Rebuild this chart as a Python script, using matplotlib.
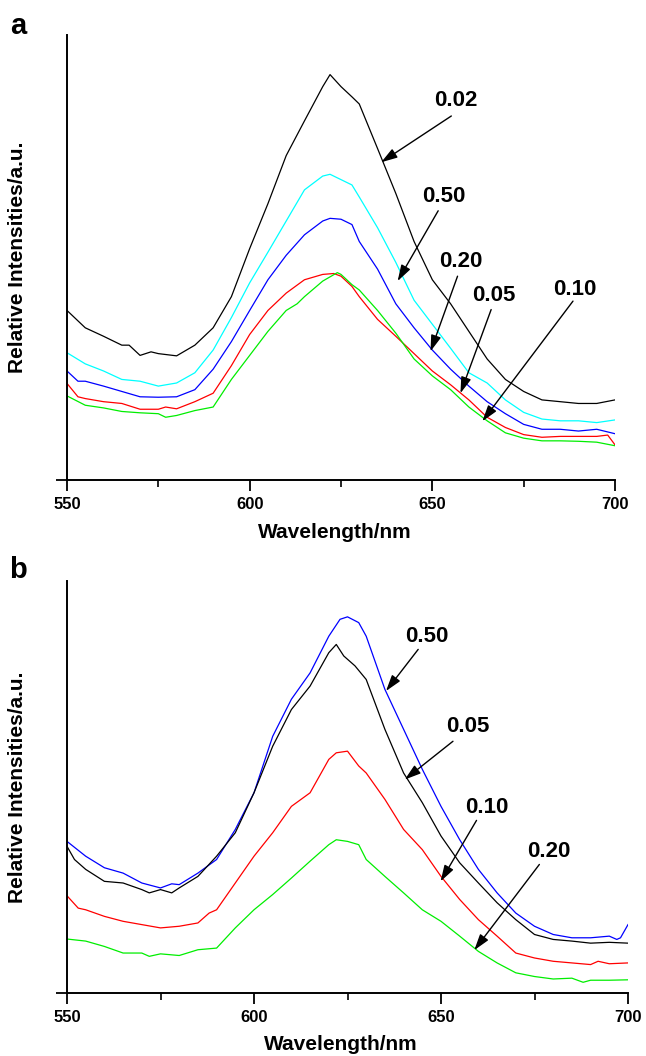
import matplotlib
matplotlib.use("Agg")
import matplotlib.pyplot as plt
from matplotlib.ticker import FixedLocator

plt.rcParams['font.family'] = ['Liberation Sans', 'DejaVu Sans']
plt.rcParams['font.weight'] = 'bold'

# ---------------- Panel a data ----------------
wl_a_black = [550, 555, 560, 565, 567, 570, 573, 575, 580, 585, 590, 595, 600, 605, 610, 615, 620, 622, 625, 628, 630,
              635, 640, 645, 650, 655, 660, 665, 670, 675, 680, 685, 690, 695, 700]
a_002 = [38.1, 34.2, 32.3, 30.3, 30.3, 28.0, 28.8, 28.4, 27.9, 30.3, 34.2, 41.2, 52.0, 62.1, 72.9, 80.7, 88.4, 91.1, 88.4, 86.1, 84.5,
         74.5, 64.4, 53.6, 45.0, 39.6, 33.4, 27.2, 22.6, 19.9, 18.0, 17.6, 17.2, 17.2, 18.0]

wl_a_cyan = [550, 555, 560, 565, 570, 575, 580, 585, 590, 595, 600, 605, 610, 615, 620, 622, 625, 628, 630,
             635, 640, 645, 650, 655, 660, 665, 670, 675, 680, 685, 690, 695, 700]
a_050 = [28.6, 26.1, 24.5, 22.6, 22.2, 21.1, 21.8, 24.1, 29.2, 36.5, 44.3, 51.2, 58.2, 65.2, 68.3, 68.7, 67.5, 66.3, 63.6,
         56.7, 48.9, 40.4, 35.0, 29.6, 24.1, 21.8, 18.0, 15.2, 13.7, 13.3, 13.3, 12.9, 13.5]

wl_a_blue = [550, 553, 555, 560, 565, 570, 575, 580, 585, 590, 595, 600, 605, 610, 615, 620, 622, 625, 628, 630,
             635, 640, 645, 650, 655, 660, 665, 670, 675, 680, 685, 690, 695, 700]
a_020 = [24.5, 22.2, 22.2, 21.1, 19.9, 18.7, 18.6, 18.7, 20.3, 24.9, 31.1, 38.1, 45.0, 50.5, 55.1, 58.2, 58.8, 58.6, 57.4, 53.6,
         47.4, 39.6, 34.2, 29.2, 24.9, 21.1, 17.6, 14.9, 12.5, 11.4, 11.4, 11.0, 11.4, 10.4]

wl_a_red = [550, 553, 555, 560, 565, 570, 575, 577, 580, 585, 590, 595, 600, 605, 610, 615, 620, 623, 625, 628, 630,
            635, 640, 645, 650, 655, 660, 665, 670, 675, 680, 685, 690, 695, 698, 700]
a_005 = [21.7, 18.7, 18.3, 17.6, 17.2, 15.9, 15.9, 16.4, 16.0, 17.6, 19.5, 25.7, 32.7, 38.1, 42.0, 45.0, 46.2, 46.4, 45.8, 43.5, 41.2,
         36.1, 32.3, 28.4, 24.5, 21.4, 18.0, 14.1, 11.8, 10.2, 9.6, 9.8, 9.8, 9.8, 10.1, 7.9]

wl_a_green = [550, 555, 560, 565, 570, 575, 577, 580, 585, 590, 595, 600, 605, 610, 613, 615, 620, 624, 625, 628, 630,
              635, 640, 645, 650, 655, 660, 665, 670, 675, 680, 685, 690, 695, 700]
a_010 = [18.9, 16.8, 16.2, 15.4, 15.1, 14.9, 14.1, 14.5, 15.6, 16.4, 22.6, 28.0, 33.4, 38.1, 39.6, 41.2, 44.7, 46.6, 46.2, 43.9, 42.7,
         38.1, 33.0, 27.2, 23.4, 20.3, 16.4, 13.3, 10.6, 9.4, 8.8, 8.8, 8.7, 8.5, 7.7]

# ---------------- Panel b data ----------------
wl_b_blue = [550, 555, 560, 565, 570, 575, 578, 580, 585, 590, 595, 600, 605, 610, 615, 620, 623, 625, 628, 630,
             635, 640, 645, 650, 655, 660, 665, 670, 675, 680, 685, 690, 695, 697, 698, 700]
b_050 = [36.8, 33.2, 30.4, 29.1, 26.7, 25.5, 26.5, 26.3, 29.1, 32.4, 39.7, 48.6, 62.3, 71.3, 77.7, 86.6, 90.7, 91.3, 89.9, 86.6,
         73.7, 64.0, 54.3, 45.3, 37.2, 30.0, 24.3, 19.4, 16.2, 14.2, 13.4, 13.4, 13.8, 13.0, 13.4, 16.6]

wl_b_black = [550, 552, 555, 560, 565, 570, 572, 575, 578, 580, 585, 590, 595, 600, 605, 610, 615, 620, 622, 624, 627, 630,
              635, 640, 645, 650, 655, 660, 665, 670, 675, 680, 685, 690, 695, 700]
b_005 = [35.6, 32.4, 30.0, 27.1, 26.7, 25.1, 24.3, 25.1, 24.3, 25.5, 28.3, 33.2, 38.9, 48.6, 59.9, 68.8, 74.5, 82.6, 84.6, 81.8, 79.4, 76.1,
         64.0, 53.4, 46.2, 38.1, 31.6, 26.7, 21.9, 17.8, 14.2, 13.0, 12.6, 12.1, 12.3, 12.1]

wl_b_red = [550, 553, 555, 560, 565, 570, 575, 580, 585, 588, 590, 595, 600, 605, 610, 615, 620, 622, 625, 628, 630,
            635, 640, 645, 650, 655, 660, 665, 670, 675, 680, 685, 690, 692, 695, 700]
b_010 = [23.6, 20.6, 20.2, 18.6, 17.4, 16.6, 15.8, 16.2, 17.0, 19.4, 20.2, 26.7, 33.2, 38.9, 45.3, 48.6, 56.7, 58.3, 58.7, 55.1, 53.4,
         47.0, 39.7, 34.8, 28.3, 22.7, 17.8, 13.8, 9.7, 8.5, 7.7, 7.3, 6.9, 7.7, 7.1, 7.3]

wl_b_green = [550, 555, 560, 565, 570, 572, 575, 580, 585, 590, 595, 600, 605, 610, 615, 620, 622, 625, 628, 630,
              635, 640, 645, 650, 655, 660, 665, 670, 675, 680, 685, 688, 690, 695, 700]
b_020 = [13.1, 12.6, 11.3, 9.7, 9.7, 8.9, 9.5, 9.1, 10.5, 10.9, 15.8, 20.2, 23.9, 27.9, 32.0, 36.0, 37.2, 36.8, 36.0, 32.4,
         28.3, 24.3, 20.2, 17.4, 13.8, 10.1, 7.3, 4.9, 4.0, 3.4, 3.6, 2.6, 3.1, 3.1, 3.2]

# annotation labels: (label, text position, arrow tail, arrow head) in data units
ann_a = [("0.02", (656.3, 85.3), (655.2, 81.8), (636.0, 71.4)),
         ("0.50", (653.2, 63.6), (651.6, 60.5), (640.5, 44.7)),
         ("0.20", (657.7, 49.1), (656.9, 45.8), (649.5, 28.9)),
         ("0.05", (666.7, 41.4), (666.1, 38.3), (657.7, 19.5)),
         ("0.10", (689.1, 42.9), (688.5, 40.2), (663.7, 13.2))]
ann_b = [("0.50", (646.1, 86.6), (643.9, 83.4), (635.3, 73.3)),
         ("0.05", (657.1, 64.8), (653.2, 61.1), (640.3, 51.8)),
         ("0.10", (662.2, 45.1), (659.5, 41.9), (649.9, 27.1)),
         ("0.20", (678.9, 34.3), (676.3, 31.2), (658.9, 10.4))]

xticks_major = [550, 600, 650, 700]
xticks_minor = [575, 625, 675]

W, H = 646, 1056
fig = plt.figure(figsize=(W / 100, H / 100), dpi=100)


def make_axes(l, r, t, b):
    return fig.add_axes([l / W, 1 - b / H, (r - l) / W, (b - t) / H])


ax_a = make_axes(67, 615, 35, 480)
ax_b = make_axes(67, 628, 581, 993)

series_a = [(wl_a_black, a_002, 'black'), (wl_a_cyan, a_050, '#00FFFF'), (wl_a_blue, a_020, '#0000FF'),
            (wl_a_red, a_005, '#FF0000'), (wl_a_green, a_010, '#00EE00')]
series_b = [(wl_b_blue, b_050, '#0000FF'), (wl_b_black, b_005, 'black'),
            (wl_b_red, b_010, '#FF0000'), (wl_b_green, b_020, '#00EE00')]


def style(ax, xlab_y, ylab_x):
    ax.set_xlim(550, 700)
    ax.set_ylim(0, 100)
    for s in ('top', 'right'):
        ax.spines[s].set_visible(False)
    for s in ('left', 'bottom'):
        ax.spines[s].set_linewidth(1.4)
    ax.xaxis.set_major_locator(FixedLocator(xticks_major))
    ax.xaxis.set_minor_locator(FixedLocator(xticks_minor))
    ax.set_xticklabels([str(v) for v in xticks_major])
    ax.tick_params(axis='x', which='major', direction='out', length=8, width=1.3, pad=4, labelsize=12)
    ax.tick_params(axis='x', which='minor', direction='out', length=5, width=1.2)
    ax.set_yticks([0])
    ax.set_yticklabels([''])
    ax.tick_params(axis='y', which='major', direction='out', length=8, width=1.3)
    for lab in ax.get_xticklabels():
        lab.set_fontweight('bold')
    ax.set_xlabel('Wavelength/nm', fontsize=15, fontweight='bold', va='center')
    ax.xaxis.set_label_coords(0.488, xlab_y)
    ax.set_ylabel('Relative Intensities/a.u.', fontsize=15, fontweight='bold', va='center')
    ax.yaxis.set_label_coords(ylab_x, 0.5)


for ax, series, ann in ((ax_a, series_a, ann_a), (ax_b, series_b, ann_b)):
    for wl, vals, c in series:
        ax.plot(wl, vals, color=c, lw=0.9)
    for lab, tpos, tail, head in ann:
        ax.text(tpos[0], tpos[1], lab, fontsize=16, fontweight='bold', ha='center', va='center')
        ax.annotate('', xy=head, xytext=tail,
                    arrowprops=dict(arrowstyle='-|>,head_length=0.7,head_width=0.22', color='black',
                                    lw=1.0, shrinkA=0, shrinkB=0, mutation_scale=14))

style(ax_a, (480 - 533) / 445, (18 - 67) / 548)
style(ax_b, (993 - 1044) / 412, (18 - 67) / 561)

fig.text(18 / W, 1 - 26 / H, 'a', fontsize=21, fontweight='bold', ha='center', va='center')
fig.text(18 / W, 1 - 570 / H, 'b', fontsize=21, fontweight='bold', ha='center', va='center')

fig.savefig('out.png', dpi=100)
